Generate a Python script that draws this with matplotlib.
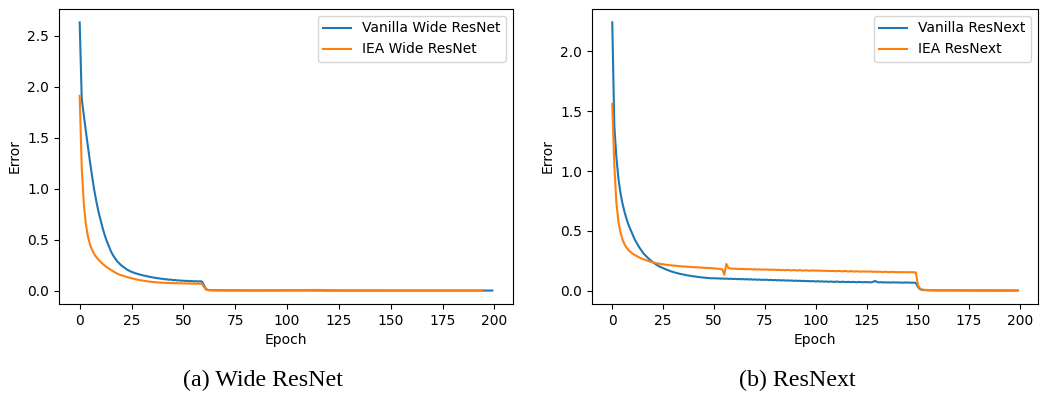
import matplotlib.pyplot as plt
import numpy as np

# ---- (a) Wide ResNet ----
wrn_vanilla_dense = [2.63, 1.88, 1.72, 1.56, 1.41, 1.26, 1.12, 0.99, 0.88, 0.78,
                     0.70, 0.62, 0.55, 0.49, 0.44, 0.39, 0.35, 0.32, 0.29, 0.27,
                     0.25, 0.235, 0.22, 0.205, 0.195, 0.185, 0.178, 0.170, 0.165, 0.158,
                     0.154, 0.148, 0.145, 0.139, 0.136, 0.131, 0.129, 0.124, 0.123, 0.118,
                     0.117, 0.113, 0.112, 0.108, 0.109, 0.104, 0.105, 0.101, 0.102, 0.098,
                     0.099, 0.096, 0.097, 0.094, 0.095, 0.092, 0.094, 0.091, 0.093, 0.090,
                     0.050, 0.014, 0.008]
wrn_vanilla_tail_ep = [63, 65, 70, 80, 90, 100, 110, 120, 130, 150, 175, 199]
wrn_vanilla_tail = [0.006, 0.005, 0.004, 0.003, 0.003, 0.003, 0.003, 0.002, 0.002, 0.002, 0.002, 0.002]

wrn_iea_dense = [1.91, 1.20, 0.85, 0.65, 0.53, 0.45, 0.40, 0.36, 0.33, 0.305,
                 0.285, 0.265, 0.248, 0.232, 0.218, 0.205, 0.193, 0.18, 0.17, 0.16,
                 0.152, 0.146, 0.14, 0.134, 0.128, 0.123, 0.118, 0.112, 0.108, 0.104,
                 0.101, 0.098, 0.094, 0.092, 0.088, 0.087, 0.084, 0.083, 0.081, 0.080,
                 0.078, 0.079, 0.076, 0.077, 0.075, 0.076, 0.073, 0.075, 0.072, 0.074,
                 0.071, 0.073, 0.070, 0.072, 0.069, 0.071, 0.068, 0.070, 0.068, 0.067,
                 0.035, 0.010, 0.006]
wrn_iea_tail_ep = [63, 65, 70, 80, 90, 100, 105, 110, 115, 120, 125, 150, 175, 194]
wrn_iea_tail = [0.005, 0.004, 0.003, 0.003, 0.003, 0.005, 0.006, 0.007, 0.008, 0.006, 0.003, 0.002, 0.002, 0.002]

# ---- (b) ResNext ----
rnx_vanilla_dense = [2.24, 1.38, 1.12, 0.94, 0.82, 0.73, 0.66, 0.60, 0.55, 0.51,
                     0.47, 0.43, 0.40, 0.37, 0.345, 0.32, 0.30, 0.283, 0.267, 0.252,
                     0.238, 0.226, 0.215, 0.205, 0.197,
                     0.19, 0.182, 0.175, 0.168, 0.162, 0.157, 0.152, 0.148, 0.143, 0.140,
                     0.136, 0.133, 0.129, 0.127, 0.124, 0.121, 0.120, 0.116, 0.115, 0.112,
                     0.111, 0.109, 0.108, 0.106, 0.105,
                     0.106, 0.104, 0.105, 0.102, 0.104, 0.101, 0.103, 0.100, 0.102, 0.099,
                     0.101, 0.098, 0.100, 0.097, 0.099, 0.096, 0.098, 0.095, 0.097, 0.094,
                     0.096, 0.093, 0.095, 0.092, 0.094,
                     0.092, 0.093, 0.090, 0.092, 0.089, 0.091, 0.088, 0.090, 0.087, 0.089,
                     0.086, 0.088, 0.085, 0.087, 0.084, 0.086, 0.083, 0.085, 0.082, 0.084,
                     0.081, 0.083, 0.080, 0.082, 0.080,
                     0.079, 0.081, 0.078, 0.080, 0.077, 0.079, 0.076, 0.078, 0.077, 0.075,
                     0.078, 0.076, 0.074, 0.077, 0.075, 0.074, 0.076, 0.073, 0.075, 0.074,
                     0.072, 0.075, 0.073, 0.072, 0.074,
                     0.072, 0.073, 0.071, 0.076, 0.083, 0.074, 0.071, 0.073, 0.070, 0.072,
                     0.070, 0.071, 0.069, 0.072, 0.070, 0.071, 0.069, 0.070, 0.068, 0.071,
                     0.069, 0.070, 0.068, 0.069, 0.066,
                     0.035, 0.015, 0.009, 0.007, 0.006, 0.005]
rnx_vanilla_tail_ep = [160, 170, 180, 190, 199]
rnx_vanilla_tail = [0.004, 0.004, 0.003, 0.003, 0.003]

rnx_iea_dense = [1.56, 1.05, 0.74, 0.58, 0.49, 0.43, 0.39, 0.36, 0.34, 0.325,
                 0.31, 0.30, 0.29, 0.281, 0.273, 0.266, 0.26, 0.254, 0.248, 0.243,
                 0.238, 0.234, 0.23, 0.227, 0.224,
                 0.222, 0.219, 0.217, 0.215, 0.213, 0.211, 0.21, 0.208, 0.206, 0.205,
                 0.203, 0.204, 0.200, 0.201, 0.198, 0.199, 0.196, 0.197, 0.194, 0.195,
                 0.192, 0.193, 0.190, 0.191, 0.189,
                 0.188, 0.186, 0.185, 0.182, 0.180, 0.135, 0.225, 0.192, 0.187, 0.185,
                 0.186, 0.183, 0.185, 0.182, 0.184, 0.181, 0.183, 0.180, 0.182, 0.179,
                 0.181, 0.178, 0.180, 0.177, 0.179,
                 0.177, 0.179, 0.176, 0.178, 0.175, 0.177, 0.174, 0.176, 0.173, 0.175,
                 0.172, 0.175, 0.173, 0.171, 0.174, 0.172, 0.170, 0.173, 0.171, 0.169,
                 0.172, 0.170, 0.168, 0.171, 0.169,
                 0.170, 0.168, 0.170, 0.167, 0.169, 0.166, 0.168, 0.165, 0.167, 0.166,
                 0.164, 0.167, 0.165, 0.163, 0.166, 0.164, 0.162, 0.165, 0.163, 0.161,
                 0.164, 0.162, 0.160, 0.163, 0.161,
                 0.162, 0.160, 0.163, 0.159, 0.161, 0.158, 0.160, 0.159, 0.157, 0.160,
                 0.158, 0.156, 0.159, 0.157, 0.158, 0.156, 0.157, 0.155, 0.157, 0.156,
                 0.155, 0.157, 0.156, 0.155, 0.154,
                 0.05, 0.02, 0.012, 0.009, 0.008, 0.007]
rnx_iea_tail_ep = [160, 170, 180, 190, 199]
rnx_iea_tail = [0.006, 0.005, 0.005, 0.004, 0.004]

labels_a = ['Vanilla Wide ResNet', 'IEA Wide ResNet']
labels_b = ['Vanilla ResNext', 'IEA ResNext']
captions = ['(a) Wide ResNet', '(b) ResNext']


def join(dense, tail_ep, tail):
    ep = list(range(len(dense))) + tail_ep
    return np.array(ep), np.array(dense + tail)


plt.rcParams['font.size'] = 10

fig = plt.figure(figsize=(10.45, 4.01), dpi=100)
ax1 = fig.add_axes([0.0565, 0.242, 0.4344, 0.7357])
ax2 = fig.add_axes([0.5665, 0.242, 0.4268, 0.7357])

series = [
    (ax1, [join(wrn_vanilla_dense, wrn_vanilla_tail_ep, wrn_vanilla_tail),
           join(wrn_iea_dense, wrn_iea_tail_ep, wrn_iea_tail)], labels_a),
    (ax2, [join(rnx_vanilla_dense, rnx_vanilla_tail_ep, rnx_vanilla_tail),
           join(rnx_iea_dense, rnx_iea_tail_ep, rnx_iea_tail)], labels_b),
]

for ax, lines, labels in series:
    for (x, y), lab, c in zip(lines, labels, ['#1f77b4', '#ff7f0e']):
        ax.plot(x, y, color=c, lw=1.5, label=lab)
    ax.set_xlabel('Epoch')
    ax.set_ylabel('Error')
    ax.set_xticks(np.arange(0, 201, 25))
    ax.legend(loc='upper right')

# captions under each panel
for xc, cap in zip([0.2517, 0.7627], captions):
    fig.text(xc, 0.05, cap, ha='center', va='center',
             family='Liberation Serif', fontsize=17.3)

fig.savefig('out.png', dpi=100)
